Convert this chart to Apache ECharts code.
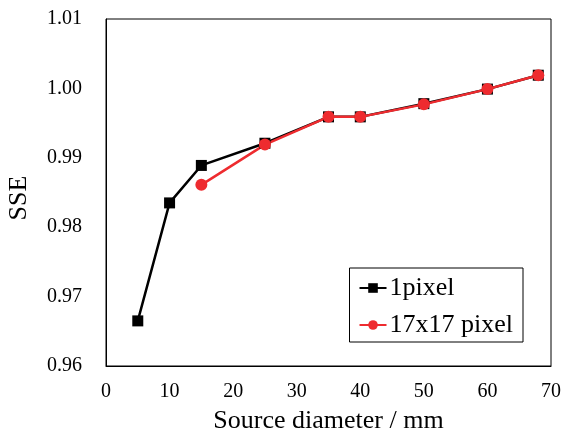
<!DOCTYPE html>
<html>
<head>
<meta charset="utf-8">
<script src="https://cdn.jsdelivr.net/npm/echarts@6/dist/echarts.min.js"></script>
<style>
  html, body { margin: 0; padding: 0; background: #fff; }
  #chart { width: 564px; height: 432px; }
</style>
</head>
<body>
<div id="chart"></div>
<script>
const diameters1 = [5, 10, 15, 25, 35, 40, 50, 60, 68];
const sse1 = [0.9665, 0.9835, 0.9889, 0.9921, 0.9959, 0.9959, 0.9978, 0.9999, 1.0019];
const diameters17 = [15, 25, 35, 40, 50, 60, 68];
const sse17 = [0.9861, 0.9919, 0.9959, 0.9959, 0.9977, 0.9999, 1.0019];

const font = 'Liberation Serif';

function pairs(xs, ys) {
    return xs.map(function(x, i) { return [x, ys[i]]; });
}

const chart = echarts.init(document.getElementById('chart'));

const option = {
    animation: false,
    textStyle: { fontFamily: font },
    grid: {
        left: 106, right: 13, top: 19, bottom: 66,
        outerBoundsMode: 'none',
        show: true,
        borderColor: '#000',
        borderWidth: 1
    },
    legend: {
        right: 41,
        top: 268,
        orient: 'vertical',
        itemGap: 11,
        itemWidth: 27,
        itemHeight: 12,
        padding: [7, 10, 4, 9],
        borderColor: '#000',
        borderWidth: 1,
        textStyle: { fontFamily: font, fontSize: 26, color: '#000', padding: [0, 0, 0, -2] },
        data: ['1pixel', '17x17 pixel']
    },
    xAxis: {
        type: 'value',
        min: 0, max: 70, interval: 10,
        name: 'Source diameter / mm',
        nameLocation: 'middle',
        nameGap: 42,
        nameTextStyle: { fontFamily: font, fontSize: 26, color: '#000' },
        axisLine: { lineStyle: { color: '#000' } },
        axisTick: { show: false },
        axisLabel: { fontFamily: font, fontSize: 20, color: '#000', margin: 16 },
        splitLine: { show: false }
    },
    yAxis: {
        type: 'value',
        min: 0.96, max: 1.01, interval: 0.01,
        name: 'SSE',
        nameLocation: 'middle',
        nameGap: 74,
        nameTextStyle: { fontFamily: font, fontSize: 26, color: '#000', padding: [0, 11, 0, 0] },
        axisLine: { lineStyle: { color: '#000' } },
        axisTick: { show: false },
        axisLabel: {
            fontFamily: font, fontSize: 20, color: '#000', margin: 24,
            formatter: function(v) { return v.toFixed(2); }
        },
        splitLine: { show: false }
    },
    series: [
        {
            name: '1pixel',
            type: 'line',
            data: pairs(diameters1, sse1),
            symbol: 'rect',
            symbolSize: 11,
            lineStyle: { color: '#000', width: 2.5 },
            itemStyle: { color: '#000' }
        },
        {
            name: '17x17 pixel',
            type: 'line',
            data: pairs(diameters17, sse17),
            symbol: 'circle',
            symbolSize: 12,
            lineStyle: { color: '#ee2b2f', width: 2.5 },
            itemStyle: { color: '#ee2b2f' }
        }
    ]
};

chart.setOption(option);
</script>
</body>
</html>
